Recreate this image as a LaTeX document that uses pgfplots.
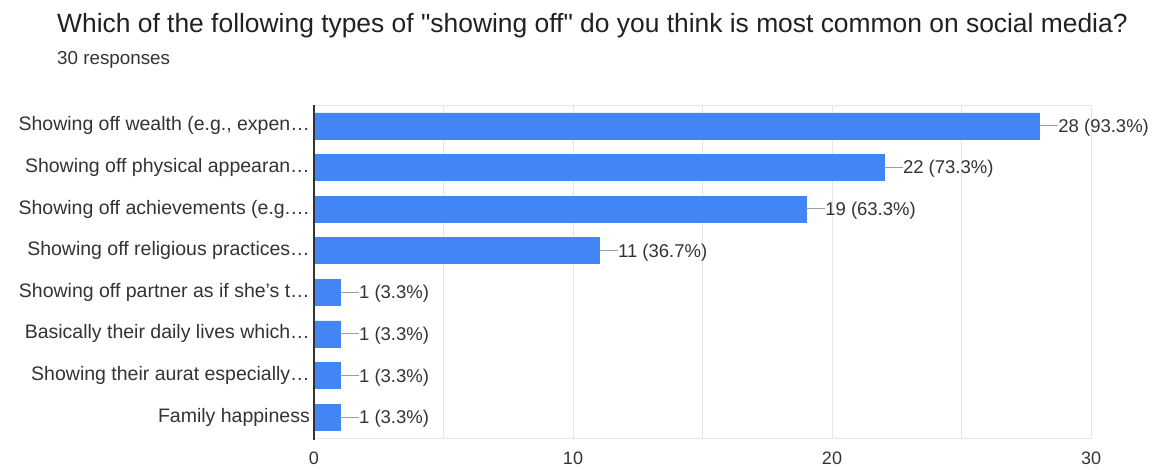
\documentclass[border=0pt]{standalone}
\usepackage{pgfplots}
\pgfplotsset{compat=1.18}
\usepackage{fontspec}
\setmainfont{Liberation Sans}[Ligatures=TeXOff]
\definecolor{barblue}{HTML}{4285F4}
\definecolor{gridgray}{HTML}{E6E6E6}
\definecolor{axisdark}{HTML}{333333}
\definecolor{txt}{HTML}{333333}
\definecolor{titletxt}{HTML}{202124}
\definecolor{leader}{HTML}{9E9E9E}
\begin{document}
\begin{tikzpicture}
\path[use as bounding box] (0,0) rectangle (1155pt,469pt);
\node[anchor=base west, inner sep=0pt, text=titletxt, font=\fontsize{26.4}{30}\selectfont] at (57pt,436pt) {Which of the following types of "showing off" do you think is most common on social media?};
\node[anchor=base west, inner sep=0pt, text=txt, font=\fontsize{18.8}{22}\selectfont] at (57pt,404pt) {30 responses};
\begin{axis}[
  at={(314pt,31pt)}, anchor=south west,
  scale only axis, width=777pt, height=333pt,
  xbar, bar width=26pt,
  xmin=0, xmax=30, ymin=0.5, ymax=8.5, y dir=reverse,
  xtick={0,10,20,30}, minor xtick={5,15,25},
  xmajorgrids, xminorgrids,
  grid style={gridgray, line width=1pt},
  minor grid style={gridgray, line width=1pt},
  major tick length=0pt, minor tick length=0pt,
  axis line style={gridgray, line width=1pt},
  ytick={1,2,3,4,5,6,7,8},
  yticklabels={{Showing off wealth (e.g., expen…}, {Showing off physical appearan…}, {Showing off achievements (e.g.…}, {Showing off religious practices…}, {Showing off partner as if she’s t…}, {Basically their daily lives which…}, {Showing their aurat especially…}, {Family happiness}},
  yticklabel style={inner sep=0pt, xshift=-4pt, anchor=east, text=txt, font=\fontsize{19.5}{22}\selectfont},
  xticklabel style={inner sep=0pt, yshift=-14pt, anchor=north, text=txt, font=\fontsize{18}{22}\selectfont},
  /pgf/number format/assume math mode=true,
  clip=false,
  point meta=explicit symbolic,
  nodes near coords={\textcolor{leader}{\rule[0.34em]{19pt}{0.9pt}}\pgfplotspointmeta},
  nodes near coords style={anchor=base west, inner sep=0pt, xshift=0pt, yshift=-6.5pt, text=txt, font=\fontsize{18.5}{22}\selectfont},
]
\addplot[fill=barblue, draw=barblue, line width=0.4pt] coordinates {
  (28,1) [28 (93.3\%)]
  (22,2) [22 (73.3\%)]
  (19,3) [19 (63.3\%)]
  (11,4) [11 (36.7\%)]
  (1,5) [1 (3.3\%)]
  (1,6) [1 (3.3\%)]
  (1,7) [1 (3.3\%)]
  (1,8) [1 (3.3\%)]
};
\draw[axisdark, line width=1.6pt] (axis cs:0,0.5) -- (axis cs:0,8.55);
\end{axis}
\end{tikzpicture}
\end{document}
